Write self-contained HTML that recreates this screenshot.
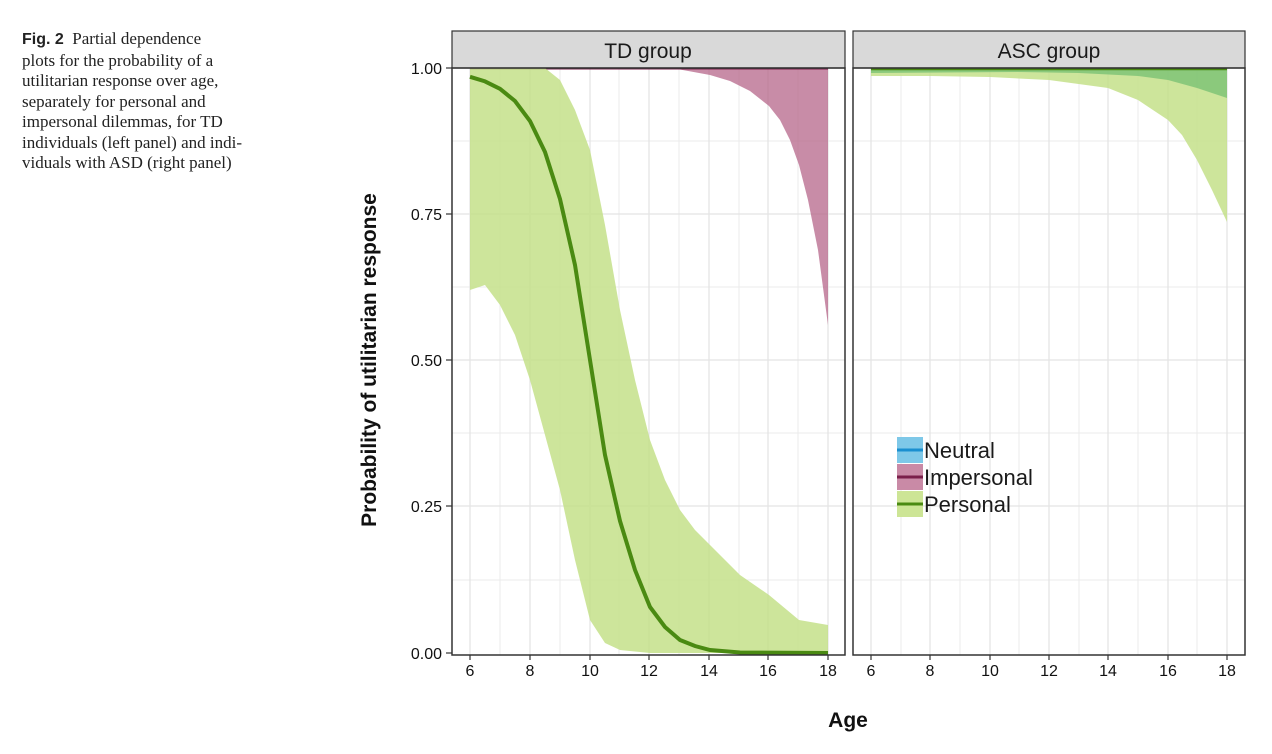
<!DOCTYPE html>
<html><head><meta charset="utf-8"><style>
body{margin:0;background:#fff;width:1272px;height:754px;overflow:hidden;position:relative;font-family:"Liberation Sans",sans-serif}
.cap{position:absolute;left:22px;top:29px;width:300px;font-family:"Liberation Serif",serif;font-size:17px;line-height:20.5px;color:#222}
.cap b{font-family:"Liberation Sans",sans-serif;font-size:16px}
</style></head><body>
<div class="cap"><b>Fig. 2</b>&nbsp; Partial dependence<br>plots for the probability of a<br>utilitarian response over age,<br>separately for personal and<br>impersonal dilemmas, for TD<br>individuals (left panel) and indi-<br>viduals with ASD (right panel)</div>
<svg width="1272" height="754" style="position:absolute;left:0;top:0" font-family="Liberation Sans, sans-serif">
<g stroke="#ebebeb" stroke-width="1">
<line x1="452" x2="845" y1="141" y2="141"/><line x1="452" x2="845" y1="287" y2="287"/><line x1="452" x2="845" y1="433" y2="433"/><line x1="452" x2="845" y1="580" y2="580"/>
<line x1="853" x2="1245" y1="141" y2="141"/><line x1="853" x2="1245" y1="287" y2="287"/><line x1="853" x2="1245" y1="433" y2="433"/><line x1="853" x2="1245" y1="580" y2="580"/>
<line x1="500" x2="500" y1="68" y2="655"/><line x1="560" x2="560" y1="68" y2="655"/><line x1="619" x2="619" y1="68" y2="655"/><line x1="679" x2="679" y1="68" y2="655"/><line x1="739" x2="739" y1="68" y2="655"/><line x1="798" x2="798" y1="68" y2="655"/>
<line x1="901" x2="901" y1="68" y2="655"/><line x1="960" x2="960" y1="68" y2="655"/><line x1="1019" x2="1019" y1="68" y2="655"/><line x1="1079" x2="1079" y1="68" y2="655"/><line x1="1138" x2="1138" y1="68" y2="655"/><line x1="1197" x2="1197" y1="68" y2="655"/>
</g>
<g stroke="#e4e4e4" stroke-width="1.3">
<line x1="452" x2="845" y1="68" y2="68"/><line x1="452" x2="845" y1="214" y2="214"/><line x1="452" x2="845" y1="360" y2="360"/><line x1="452" x2="845" y1="506" y2="506"/>
<line x1="853" x2="1245" y1="214" y2="214"/><line x1="853" x2="1245" y1="360" y2="360"/><line x1="853" x2="1245" y1="506" y2="506"/>
<line x1="470" x2="470" y1="68" y2="655"/><line x1="530" x2="530" y1="68" y2="655"/><line x1="590" x2="590" y1="68" y2="655"/><line x1="649" x2="649" y1="68" y2="655"/><line x1="709" x2="709" y1="68" y2="655"/><line x1="768" x2="768" y1="68" y2="655"/><line x1="828" x2="828" y1="68" y2="655"/>
<line x1="871" x2="871" y1="68" y2="655"/><line x1="930" x2="930" y1="68" y2="655"/><line x1="990" x2="990" y1="68" y2="655"/><line x1="1049" x2="1049" y1="68" y2="655"/><line x1="1108" x2="1108" y1="68" y2="655"/><line x1="1168" x2="1168" y1="68" y2="655"/><line x1="1227" x2="1227" y1="68" y2="655"/>
</g>
<path d="M470,68 L650,68 L680,69.5 L710,75 L730,81 L750,91 L769,106 L780,120 L790,140 L799,165 L808,200 L818,250 L828,325 L828,68 Z" fill="#b5668a" fill-opacity="0.75"/>
<line x1="470" x2="828" y1="68.5" y2="68.5" stroke="#7a1f4a" stroke-width="2"/>
<path d="M470,68 L545,68 L560,80 L575,110 L590,150 L605,225 L620,310 L635,380 L650,440 L665,480 L680,510 L695,530 L710,545 L740,575 L769,595 L799,620 L828,625 L828,653 L650,653 L620,650 L605,643 L590,620 L575,560 L560,490 L545,435 L530,380 L515,335 L500,305 L485,285 L470,290 Z" fill="#c4e08a" fill-opacity="0.85"/>
<polyline fill="none" stroke="#4a8a12" stroke-width="4" points="470,76.8 485,81.4 500,88.8 515,101 530,121 545,152 560,199 575,265 590,360 605,455 620,521 635,570 650,607 665,627 680,640 695,646 710,650 740,652.5 828,653"/>
<path d="M871,68 L1227,68 L1227,222 L1212,190 L1197,160 L1182,135 L1168,120 L1138,100 L1108,88 L1049,80 L990,77 L930,76 L871,76 Z" fill="#c4e08a" fill-opacity="0.85"/>
<path d="M871,68 L1227,68 L1227,98 L1197,88 L1168,80 L1138,76 L1079,73 L1019,72 L871,73 Z" fill="#6fbd6f" fill-opacity="0.7"/>
<line x1="871" x2="1227" y1="69" y2="69" stroke="#4a8a12" stroke-width="2.5"/>
<rect x="452" y="31" width="393" height="37" fill="#d9d9d9" stroke="#333" stroke-width="1.2"/>
<rect x="853" y="31" width="392" height="37" fill="#d9d9d9" stroke="#333" stroke-width="1.2"/>
<rect x="452" y="68" width="393" height="587" fill="none" stroke="#333" stroke-width="1.5"/>
<rect x="853" y="68" width="392" height="587" fill="none" stroke="#333" stroke-width="1.5"/>
<text x="648" y="58" font-size="21" text-anchor="middle" fill="#1a1a1a">TD group</text>
<text x="1049" y="58" font-size="21" text-anchor="middle" fill="#1a1a1a">ASC group</text>
<g font-size="16" text-anchor="end" fill="#111">
<text x="442" y="74">1.00</text><text x="442" y="220">0.75</text><text x="442" y="366">0.50</text><text x="442" y="512">0.25</text><text x="442" y="659">0.00</text>
</g>
<g stroke="#333" stroke-width="1.2">
<line x1="446" x2="452" y1="68" y2="68"/><line x1="446" x2="452" y1="214" y2="214"/><line x1="446" x2="452" y1="360" y2="360"/><line x1="446" x2="452" y1="506" y2="506"/><line x1="446" x2="452" y1="653" y2="653"/>
<line x1="470" x2="470" y1="655" y2="660"/><line x1="530" x2="530" y1="655" y2="660"/><line x1="590" x2="590" y1="655" y2="660"/><line x1="649" x2="649" y1="655" y2="660"/><line x1="709" x2="709" y1="655" y2="660"/><line x1="768" x2="768" y1="655" y2="660"/><line x1="828" x2="828" y1="655" y2="660"/>
<line x1="871" x2="871" y1="655" y2="660"/><line x1="930" x2="930" y1="655" y2="660"/><line x1="990" x2="990" y1="655" y2="660"/><line x1="1049" x2="1049" y1="655" y2="660"/><line x1="1108" x2="1108" y1="655" y2="660"/><line x1="1168" x2="1168" y1="655" y2="660"/><line x1="1227" x2="1227" y1="655" y2="660"/>
</g>
<g font-size="16" text-anchor="middle" fill="#111">
<text x="470" y="676">6</text><text x="530" y="676">8</text><text x="590" y="676">10</text><text x="649" y="676">12</text><text x="709" y="676">14</text><text x="768" y="676">16</text><text x="828" y="676">18</text>
<text x="871" y="676">6</text><text x="930" y="676">8</text><text x="990" y="676">10</text><text x="1049" y="676">12</text><text x="1108" y="676">14</text><text x="1168" y="676">16</text><text x="1227" y="676">18</text>
</g>
<text x="848" y="727" font-size="21" font-weight="bold" text-anchor="middle" fill="#111">Age</text>
<text transform="translate(376,360) rotate(-90)" font-size="21" font-weight="bold" text-anchor="middle" fill="#111">Probability of utilitarian response</text>
<rect x="897" y="437" width="26" height="26" fill="#7ec8e8"/><line x1="897" x2="923" y1="450" y2="450" stroke="#1a8fd0" stroke-width="3"/>
<rect x="897" y="464" width="26" height="26" fill="#c98aa6"/><line x1="897" x2="923" y1="477" y2="477" stroke="#7a1f4a" stroke-width="3"/>
<rect x="897" y="491" width="26" height="26" fill="#cde596"/><line x1="897" x2="923" y1="504" y2="504" stroke="#4a8a12" stroke-width="3"/>
<g font-size="22" fill="#1a1a1a"><text x="924" y="458">Neutral</text><text x="924" y="485">Impersonal</text><text x="924" y="512">Personal</text></g>
</svg>
</body></html>
